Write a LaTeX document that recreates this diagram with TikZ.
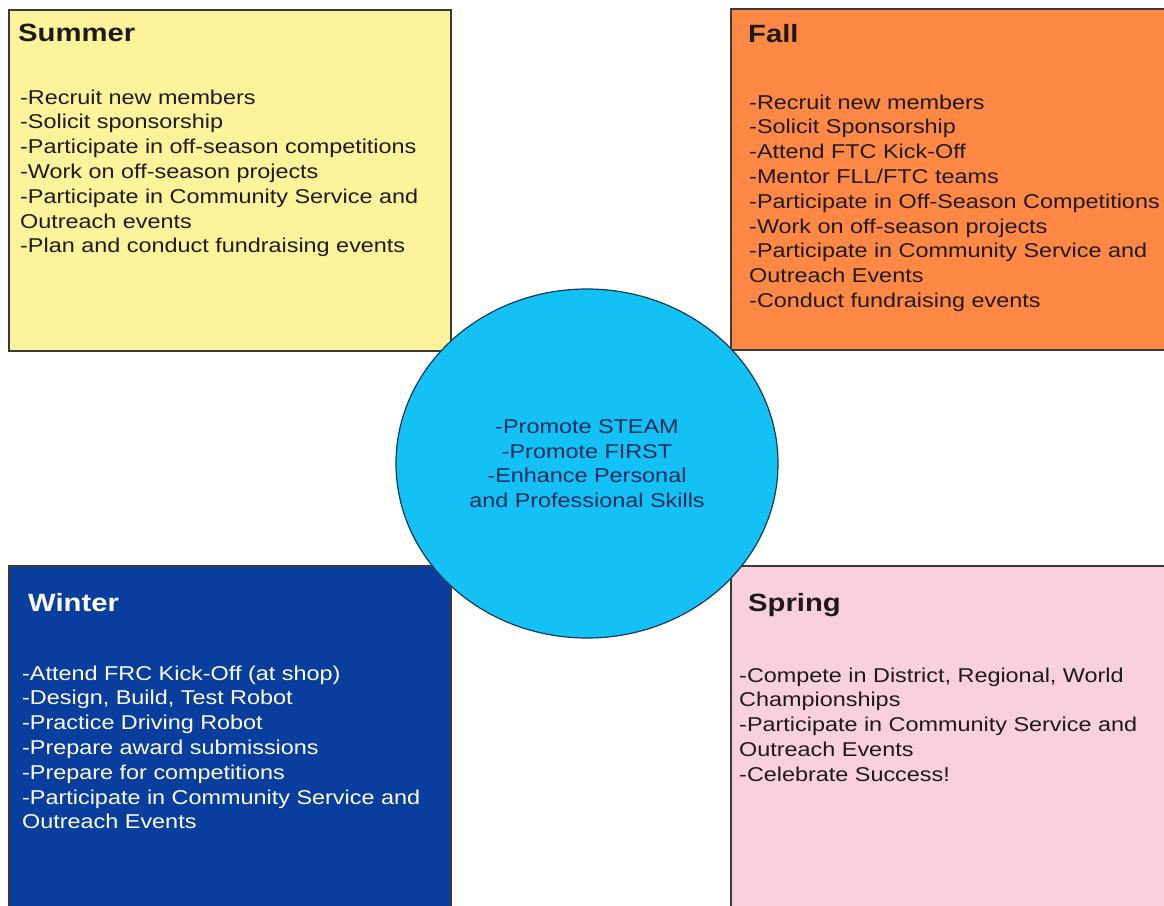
\documentclass[tikz,border=0pt]{standalone}
\usepackage{fontspec}
\setmainfont{Liberation Sans}[FakeStretch=1.17]
\usetikzlibrary{shapes.geometric}

\definecolor{summerfill}{HTML}{FDF39B}
\definecolor{fallfill}{HTML}{FF8844}
\definecolor{winterfill}{HTML}{0A3E9E}
\definecolor{springfill}{HTML}{F8D0DE}
\definecolor{goalfill}{HTML}{14C1F4}
\definecolor{boxline}{HTML}{3A3A3A}
\definecolor{goalline}{HTML}{0E3A5C}
\definecolor{goaltext}{HTML}{0B2D5C}
\definecolor{darktext}{HTML}{1E1A18}

\begin{document}
\begin{tikzpicture}[x=1pt,y=-1pt,
  season/.style={draw=boxline, line width=1.5pt, inner sep=0pt, anchor=north west},
  heading/.style={anchor=base west, inner sep=0pt,
    font=\fontsize{25}{30}\selectfont\bfseries},
  itemlist/.style={anchor=north west, inner sep=0pt, align=left,
    font=\fontsize{20}{24.8}\selectfont}]

\useasboundingbox (0,0) rectangle (1164,905);
\fill[white] (0,0) rectangle (1164,905);

% the four seasons
\node[season, fill=summerfill, minimum width=442pt, minimum height=341pt] (summer) at (8,9) {};
\node[season, fill=fallfill,   minimum width=445pt, minimum height=341pt] (fall)   at (730,8) {};
\node[season, fill=winterfill, minimum width=442pt, minimum height=350pt] (winter) at (8,565) {};
\node[season, fill=springfill, minimum width=445pt, minimum height=350pt] (spring) at (730,565) {};

% Summer
\node[heading, text=darktext] (summerhead) at (18,41) {Summer};
\node[itemlist, text=darktext] (summerlist) at (20,89.4) {%
-Recruit new members\\
-Solicit sponsorship\\
-Participate in off-season competitions\\
-Work on off-season projects\\
-Participate in Community Service and\\
Outreach events\\
-Plan and conduct fundraising events};

% Fall
\node[heading, text=darktext] (fallhead) at (748,42) {Fall};
\node[itemlist, text=darktext] (falllist) at (749,94.4) {%
-Recruit new members\\
-Solicit Sponsorship\\
-Attend FTC Kick-Off\\
-Mentor FLL/FTC teams\\
-Participate in Off-Season Competitions\\
-Work on off-season projects\\
-Participate in Community Service and\\
Outreach Events\\
-Conduct fundraising events};

% Winter
\node[heading, text=white] (winterhead) at (28,611) {Winter};
\node[itemlist, text=white] (winterlist) at (22,665.4) {%
-Attend FRC Kick-Off (at shop)\\
-Design, Build, Test Robot\\
-Practice Driving Robot\\
-Prepare award submissions\\
-Prepare for competitions\\
-Participate in Community Service and\\
Outreach Events};

% Spring
\node[heading, text=darktext] (springhead) at (748,611) {Spring};
\node[itemlist, text=darktext] (springlist) at (739,667.4) {%
-Compete in District, Regional, World\\
Championships\\
-Participate in Community Service and\\
Outreach Events\\
-Celebrate Success!};

% central goals
\node[ellipse, draw=goalline, line width=1.2pt, fill=goalfill, inner sep=0pt,
      minimum width=382pt, minimum height=349pt, align=center, text=goaltext,
      font=\fontsize{20}{24.5}\selectfont] (goals) at (587,463.5) {%
-Promote STEAM\\
-Promote FIRST\\
-Enhance Personal\\
and Professional Skills};

\end{tikzpicture}
\end{document}
